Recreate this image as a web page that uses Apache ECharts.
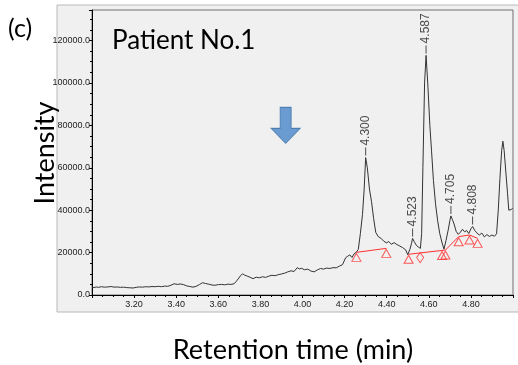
<!DOCTYPE html>
<html>
<head>
<meta charset="utf-8">
<script src="https://cdn.jsdelivr.net/npm/echarts@6/dist/echarts.min.js"></script>
<style>
  html, body { margin: 0; padding: 0; background: #fff; }
  #chart { width: 518px; height: 365px; }
</style>
</head>
<body>
<div id="chart"></div>
<script>
// chromatogram, retention time (min) vs intensity
var times = [
  3.000, 3.010, 3.020, 3.030, 3.045, 3.060, 3.075, 3.090, 3.105, 3.120,
  3.135, 3.150, 3.165, 3.180, 3.195, 3.210, 3.225, 3.240, 3.255, 3.270,
  3.285, 3.300, 3.315, 3.330, 3.345, 3.360, 3.375, 3.390, 3.405, 3.420,
  3.435, 3.450, 3.465, 3.480, 3.495, 3.510, 3.525, 3.540, 3.555, 3.570,
  3.585, 3.600, 3.615, 3.630, 3.645, 3.660, 3.675, 3.690, 3.705, 3.715,
  3.725, 3.740, 3.755, 3.765, 3.780, 3.795, 3.810, 3.825, 3.840, 3.855,
  3.870, 3.885, 3.900, 3.915, 3.930, 3.945, 3.960, 3.975, 3.985, 3.995,
  4.010, 4.025, 4.040, 4.055, 4.070, 4.085, 4.100, 4.115, 4.130, 4.145,
  4.160, 4.175, 4.190, 4.205, 4.215, 4.225, 4.235, 4.245, 4.255, 4.265,
  4.275, 4.285, 4.293, 4.300, 4.308, 4.318, 4.328, 4.338, 4.348, 4.360,
  4.372, 4.385, 4.398, 4.410, 4.422, 4.435, 4.445, 4.460, 4.475, 4.490,
  4.500, 4.510, 4.518, 4.523, 4.530, 4.540, 4.550, 4.560, 4.566, 4.572,
  4.580, 4.587, 4.595, 4.605, 4.613, 4.622, 4.632, 4.642, 4.652, 4.662,
  4.672, 4.682, 4.692, 4.700, 4.705, 4.712, 4.720, 4.730, 4.740, 4.750,
  4.760, 4.770, 4.780, 4.790, 4.800, 4.808, 4.818, 4.828, 4.840, 4.852,
  4.864, 4.876, 4.888, 4.900, 4.912, 4.922, 4.930, 4.938, 4.946, 4.952,
  4.958, 4.966, 4.974, 4.980, 4.986, 4.992, 4.998
];
var intensity = [
  3700, 3500, 3800, 3600, 3900, 3700, 3800, 4000, 3700, 3800,
  3600, 3700, 3500, 3400, 3300, 3600, 3800, 3700, 3900, 3800,
  4000, 3900, 4100, 3900, 4200, 4100, 4600, 5300, 5000, 5200,
  4900, 4300, 4000, 3700, 4100, 4900, 5800, 5400, 5100, 4700,
  4600, 4900, 5000, 4800, 5100, 5000, 5300, 7000, 9000, 10000,
  9400, 8800, 8200, 7700, 8400, 8100, 8600, 8300, 8900, 9300,
  9100, 9600, 9900, 10300, 10900, 11400, 11100, 12900, 12300, 12600,
  11900, 12200, 11300, 10900, 11800, 12500, 12200, 12700, 12500, 12900,
  12800, 13600, 14300, 17600, 18300, 18900, 17700, 19400, 20100, 21500,
  29000, 38000, 50000, 64800, 60000, 50000, 44000, 36000, 29500, 27500,
  26800, 25500, 24600, 25200, 23900, 24700, 24000, 23200, 22400, 21300,
  19000, 21500, 24400, 26700, 25300, 23600, 22600, 22000, 29000, 60000,
  100000, 113000, 100000, 80000, 68000, 54000, 43000, 35000, 29000, 25000,
  21600, 25800, 30600, 35000, 37300, 35600, 33500, 30000, 28600, 29600,
  31000, 29800, 30400, 29000, 31200, 32300, 30500, 29300, 28300, 29200,
  27400, 28500, 27600, 28300, 27700, 28900, 40000, 55000, 68000, 72500,
  68000, 58000, 48000, 40000, 40800, 40300, 41000
];

// labelled peaks
var peakTimes = [4.300, 4.523, 4.587, 4.705, 4.808];
var peakHeights = [64800, 26700, 113000, 37300, 32300];

// integration baselines (red)
var baseSeg1 = [[4.256, 20100], [4.398, 22000]];
var baseSeg2 = [[4.504, 19200], [4.679, 21200], [4.742, 27500], [4.793, 28300], [4.832, 26700]];
var triangleMarks = [[4.256, 20100], [4.398, 22000], [4.504, 19200], [4.663, 21000],
  [4.679, 21200], [4.742, 27500], [4.793, 28300], [4.832, 26700]];
var diamondMarks = [[4.559, 20000]];

// arrow annotation position (data coords)
var arrowAt = [3.92, 80000];

var chartDom = document.getElementById('chart');
var myChart = echarts.init(chartDom, null, { renderer: 'canvas' });

var traceData = times.map(function (t, i) { return [t, intensity[i]]; });
var peakData = peakTimes.map(function (t, i) { return [t, peakHeights[i]]; });

var calibri = 'Lato, "Open Sans", sans-serif';

var option = {
  backgroundColor: '#fff',
  animation: false,
  grid: {
    left: 92,
    right: 5,
    top: 10,
    bottom: 70,
    show: true,
    backgroundColor: '#f0f0f0',
    borderColor: '#707070',
    borderWidth: 1
  },
  graphic: [
    {
      type: 'rect',
      z: -10,
      silent: true,
      shape: { x: 57, y: 5, width: 470, height: 307 },
      style: { fill: '#f0f0f0', stroke: '#b8b8b8', lineWidth: 1 }
    },
    {
      type: 'text', left: 8, top: 16,
      style: { text: '(c)', font: '25px ' + calibri, fill: '#000' }
    },
    {
      type: 'text', left: 112, top: 28,
      style: { text: 'Patient No.1', font: '26px ' + calibri, fill: '#000' }
    },
    {
      type: 'text', x: 293, y: 350,
      style: { text: 'Retention time (min)', font: '27px ' + calibri, fill: '#000',
        align: 'center', verticalAlign: 'middle' }
    },
    {
      type: 'text', x: 45, y: 153, rotation: Math.PI / 2,
      style: { text: 'Intensity', font: '27px ' + calibri, fill: '#000',
        align: 'center', verticalAlign: 'middle' }
    }
  ],
  xAxis: {
    type: 'value',
    min: 3.0,
    max: 5.0,
    interval: 0.2,
    axisLine: { onZero: false, lineStyle: { color: '#000', width: 1 } },
    axisTick: { show: true, length: 3, inside: false, lineStyle: { color: '#000' } },
    minorTick: { show: true, splitNumber: 4, length: 2, lineStyle: { color: '#000' } },
    splitLine: { show: false },
    axisLabel: {
      showMinLabel: false,
      showMaxLabel: false,
      margin: 5,
      fontSize: 9,
      fontFamily: 'Liberation Sans',
      color: '#222',
      formatter: function (v) { return v.toFixed(2); }
    }
  },
  yAxis: {
    type: 'value',
    min: 0,
    max: 134400,
    interval: 20000,
    axisLine: { show: true, lineStyle: { color: '#000', width: 1 } },
    axisTick: { show: true, length: 3, lineStyle: { color: '#000' } },
    minorTick: { show: true, splitNumber: 4, length: 2, lineStyle: { color: '#000' } },
    splitLine: { show: false },
    axisLabel: {
      showMaxLabel: false,
      margin: 2,
      fontSize: 9,
      fontFamily: 'Liberation Sans',
      color: '#222',
      formatter: function (v) { return v.toFixed(1); }
    }
  },
  series: [
    {
      name: 'trace',
      type: 'line',
      data: traceData,
      showSymbol: false,
      smooth: false,
      lineStyle: { color: '#333', width: 1 },
      z: 3
    },
    {
      name: 'base1',
      type: 'line',
      data: baseSeg1,
      showSymbol: false,
      lineStyle: { color: '#ff3030', width: 1 },
      z: 4
    },
    {
      name: 'base2',
      type: 'line',
      data: baseSeg2,
      showSymbol: false,
      lineStyle: { color: '#ff3030', width: 1 },
      z: 4
    },
    {
      name: 'triangles',
      type: 'scatter',
      data: triangleMarks,
      symbol: 'triangle',
      symbolSize: [9, 8],
      symbolOffset: [0, 5],
      itemStyle: { color: 'rgba(0,0,0,0)', borderColor: '#ff3030', borderWidth: 1 },
      z: 5
    },
    {
      name: 'diamonds',
      type: 'scatter',
      data: diamondMarks,
      symbol: 'diamond',
      symbolSize: [7, 10],
      symbolOffset: [0, 5],
      itemStyle: { color: 'rgba(0,0,0,0)', borderColor: '#ff3030', borderWidth: 1 },
      z: 5
    },
    {
      name: 'peaks',
      type: 'scatter',
      data: peakData,
      symbol: 'rect',
      symbolSize: [1, 8],
      symbolOffset: [0, -6],
      itemStyle: { color: '#222' },
      label: {
        show: true,
        position: 'top',
        distance: 2,
        rotate: 90,
        align: 'left',
        verticalAlign: 'middle',
        fontSize: 12,
        fontFamily: 'Liberation Sans',
        color: '#222',
        formatter: function (p) { return p.value[0].toFixed(3); }
      },
      z: 6
    },
    {
      name: 'arrow',
      type: 'scatter',
      data: [arrowAt],
      symbol: 'path://M9,0 L20,0 L20,21 L29,21 L14.5,36 L0,21 L9,21 Z',
      symbolSize: [29, 36],
      itemStyle: { color: '#4a87c9', borderColor: '#3d72a8', borderWidth: 1 },
      z: 7
    }
  ]
};

myChart.setOption(option);
window.addEventListener('resize', myChart.resize);
</script>
</body>
</html>
